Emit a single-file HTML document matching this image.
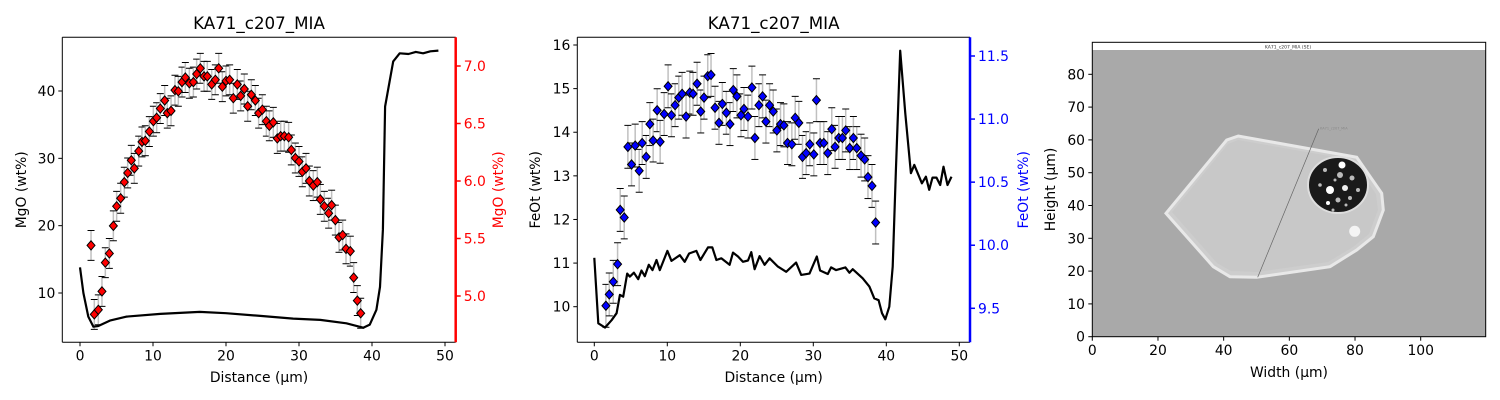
<!DOCTYPE html>
<html><head><meta charset="utf-8">
<style>
html,body{margin:0;padding:0;background:#fff;}
svg{display:block;font-family:"DejaVu Sans","Liberation Sans",sans-serif;}
</style></head>
<body>
<svg id="fig" width="1500" height="400" viewBox="0 0 1500 400" xmlns="http://www.w3.org/2000/svg">
<rect width="1500" height="400" fill="#fff"/>
<g id="p1"></g>
<g id="p2"></g>
<g id="p3">
  <rect x="1092.3" y="42.3" width="393.4" height="294.4" fill="#a9a9a9"/>
  <rect x="1092.3" y="42.3" width="393.4" height="7.7" fill="#fff"/>
  <text x="1288" y="48.5" font-size="4.5" text-anchor="middle" fill="#333">KA71_c207_MIA (SE)</text>
  <polygon points="1166,213.3 1226.7,140 1238.3,136 1356.7,157.3 1381.7,193.3 1383.3,210 1373.3,236.7 1356.7,250 1330,266.7 1256.7,277.3 1230,276.7 1213.3,266.7" fill="#cdcdcd" stroke="#e8e8e8" stroke-width="3"/>
  <polygon points="1172,212 1228,144 1238,140 1352,160 1376,194 1378,210 1369,234 1353,247 1328,262 1257,272 1231,271 1217,263" fill="#c8c8c8"/>
  <ellipse cx="1338" cy="185" rx="30" ry="28" fill="#1a1a1a" stroke="#ddd" stroke-width="2"/>
  <g fill="#bbb">
    <circle cx="1340" cy="175" r="3"/><circle cx="1330" cy="190" r="4" fill="#fff"/><circle cx="1345" cy="188" r="3" fill="#eee"/><circle cx="1325" cy="170" r="2"/><circle cx="1352" cy="178" r="2.5"/><circle cx="1338" cy="200" r="2.5"/><circle cx="1350" cy="198" r="2"/><circle cx="1342" cy="165" r="3.5" fill="#fff"/><circle cx="1328" cy="203" r="2" fill="#fff"/><circle cx="1358" cy="190" r="2"/><circle cx="1320" cy="185" r="1.8"/><circle cx="1335" cy="180" r="1.5"/><circle cx="1346" cy="205" r="1.5"/><circle cx="1333" cy="210" r="1.5"/>
  </g>
  <circle cx="1354.7" cy="231.3" r="5.5" fill="#f4f4f4"/>
  <line x1="1257.7" y1="277.3" x2="1318.7" y2="128.7" stroke="#666" stroke-width="0.7"/>
  <text x="1320" y="129.5" font-size="3.5" fill="#888">KA71_c207_MIA</text>
  <rect x="1092.3" y="42.3" width="393.4" height="294.4" fill="none" stroke="#000" stroke-width="1"/>
</g>
</svg>
<script>
// ---------- Panel 1 data (MgO) ----------
const mgoDist = [1.51,1.96,2.51,3.01,3.47,4.02,4.57,5.02,5.57,6.07,6.53,7.03,7.44,8.04,8.49,8.95,9.50,10.05,10.50,11.00,11.60,11.96,12.47,13.01,13.47,13.97,14.43,14.98,15.53,15.98,16.48,16.99,17.44,18.04,18.54,19.00,19.50,20.00,20.50,21.00,21.55,22.01,22.51,22.97,23.47,24.02,24.47,24.98,25.53,25.94,26.48,27.03,27.49,27.99,28.58,28.95,29.50,30.00,30.46,30.96,31.42,31.96,32.51,32.92,33.47,34.06,34.47,34.98,35.48,35.98,36.44,37.03,37.49,37.99,38.45];
const mgoMelt = [5.44,4.84,4.88,5.04,5.29,5.37,5.61,5.78,5.85,5.99,6.07,6.18,6.11,6.26,6.34,6.35,6.43,6.52,6.55,6.63,6.70,6.59,6.61,6.79,6.78,6.86,6.90,6.85,6.86,6.93,6.98,6.91,6.91,6.84,6.88,6.98,6.82,6.87,6.88,6.72,6.84,6.74,6.80,6.65,6.75,6.70,6.59,6.62,6.52,6.48,6.51,6.37,6.39,6.39,6.38,6.27,6.20,6.17,6.08,6.11,6.00,5.96,5.99,5.84,5.78,5.72,5.79,5.66,5.51,5.53,5.41,5.39,5.16,4.96,4.85];
const mgoErr = 0.13;
const mgoHostDist = [0,0.46,1.14,1.83,2.5,4.1,6.4,11,16.4,20,24.7,29.2,32.9,36.5,38.8,39.7,40.6,41.1,41.5,41.8,42.9,43.8,45,46,47,48,49.1];
const mgoHost = [13.8,10.0,6.5,5.0,5.1,5.9,6.5,6.9,7.2,7.0,6.6,6.2,6.0,5.5,4.85,5.3,7.5,10.9,19.4,37.7,44.4,45.6,45.5,45.8,45.6,45.9,46.0];
const p1XTicks = [0,10,20,30,40,50];
const p1LTicks = [10,20,30,40];
const p1RTicks = [5.0,5.5,6.0,6.5,7.0];

// ---------- Panel 2 data (FeOt) ----------
const feoDist = [1.59,2.05,2.60,3.19,3.55,4.10,4.60,5.10,5.60,6.15,6.56,7.11,7.61,8.06,8.61,9.02,9.57,10.11,10.57,11.07,11.57,12.03,12.57,13.08,13.53,14.08,14.58,15.03,15.54,15.99,16.54,17.08,17.54,18.09,18.59,19.04,19.54,20.09,20.50,21.05,21.59,22.00,22.55,23.05,23.51,24.01,24.51,25.01,25.51,25.97,26.47,27.06,27.52,28.02,28.52,29.02,29.52,30.07,30.43,30.93,31.44,31.98,32.53,32.98,33.49,33.99,34.44,34.99,35.49,35.95,36.54,37.04,37.49,38.04,38.54];
const feoMelt = [9.52,9.61,9.71,9.85,10.28,10.22,10.78,10.64,10.79,10.59,10.81,10.70,10.96,10.83,11.07,10.82,11.04,11.26,11.03,11.11,11.17,11.20,11.02,11.21,11.20,11.28,11.06,11.17,11.34,11.35,11.09,10.97,11.12,11.05,10.96,11.23,11.18,11.03,11.08,11.02,11.25,10.85,11.11,11.18,10.98,11.11,11.06,10.91,10.96,10.95,10.81,10.80,11.01,10.97,10.70,10.73,10.80,10.72,11.15,10.81,10.81,10.73,10.92,10.78,10.85,10.85,10.91,10.77,10.85,10.77,10.71,10.68,10.54,10.47,10.18];
const feoErr = 0.17;
const feoHostDist = [0,0.55,1.46,2.37,3.05,3.51,3.96,4.51,4.87,5.42,6.01,6.47,6.92,7.47,7.97,8.52,8.97,10.02,10.57,11.71,12.39,12.98,13.98,14.54,15.58,16.17,16.72,17.40,18.54,19.0,19.68,20.36,21.05,21.5,21.96,22.64,23.33,24.01,25.15,26.29,27.65,28.34,29.48,30.48,30.93,31.98,32.44,33.12,34.40,34.94,35.4,36.77,37.68,38.36,38.95,39.41,39.86,40.41,40.87,41.32,41.91,42.6,43.37,43.83,44.88,45.42,45.88,46.33,46.88,47.38,47.83,48.38,48.93];
const feoHost = [11.12,9.62,9.52,9.69,9.85,10.27,10.23,10.76,10.69,10.78,10.63,10.83,10.70,10.96,10.84,11.07,10.84,11.28,11.05,11.18,11.03,11.22,11.28,11.07,11.36,11.36,11.07,11.11,10.96,11.24,11.15,11.03,11.06,11.25,10.86,11.16,10.96,11.11,10.92,10.80,11.01,10.73,10.76,11.15,10.83,10.75,10.90,10.84,10.90,10.78,10.86,10.65,10.46,10.19,10.15,9.85,9.71,10.0,10.92,13.13,15.87,14.43,13.06,13.25,12.83,12.98,12.68,12.96,12.96,12.79,13.21,12.79,12.98];
const p2XTicks = [0,10,20,30,40,50];
const p2LTicks = [10,11,12,13,14,15,16];
const p2RTicks = [9.5,10.0,10.5,11.0,11.5];

// ---------- Panel 3 ticks ----------
const p3XTicks = [0,20,40,60,80,100];
const p3YTicks = [0,10,20,30,40,50,60,70,80];

const NS = 'http://www.w3.org/2000/svg';
const FS = 13.9;
function mk(parent, tag, attrs, txt){
  const e = document.createElementNS(NS, tag);
  for (const k in attrs) e.setAttribute(k, attrs[k]);
  if (txt !== undefined) e.textContent = txt;
  parent.appendChild(e);
  return e;
}
function lin(d0,d1,r0,r1){ return v => r0 + (v-d0)*(r1-r0)/(d1-d0); }

function panel(g, cfg){
  const L=cfg.L, R=cfg.R, T=37.3, B=342.3;
  const X = lin(0,50,cfg.x0,cfg.x50);
  const YL = lin(cfg.l[0],cfg.l[1],cfg.l[2],cfg.l[3]);
  const YR = lin(cfg.r[0],cfg.r[1],cfg.r[2],cfg.r[3]);
  const clip = mk(g,'clipPath',{id:cfg.id+'clip'});
  mk(clip,'rect',{x:L,y:T,width:R-L,height:B-T});
  const eg = mk(g,'g',{'clip-path':'url(#'+cfg.id+'clip)'});
  
  
  cfg.md.forEach((d,i)=>{
    const x=X(d), y1=YR(cfg.mv[i]+cfg.err), y2=YR(cfg.mv[i]-cfg.err);
    const bar = mk(eg,'line',{x1:x,x2:x,y1:y1,y2:y2,stroke:'#c0c0c0','stroke-width':1.5});
    
    
    mk(eg,'line',{x1:x-3.5,x2:x+3.5,y1:y1,y2:y1,stroke:'#000','stroke-width':1});
    mk(eg,'line',{x1:x-3.5,x2:x+3.5,y1:y2,y2:y2,stroke:'#000','stroke-width':1});
  });
  cfg.md.forEach((d,i)=>{
    const x=X(d), y=YR(cfg.mv[i]);
    const p = mk(eg,'polygon',{points:`${x},${y-4.6} ${x+4},${y} ${x},${y+4.6} ${x-4},${y}`,fill:cfg.mc,stroke:'#000','stroke-width':1});
    
    
  });
  const pts = cfg.hd.map((d,i)=>X(d).toFixed(1)+','+YL(cfg.hv[i]).toFixed(1)).join(' ');
  const hl = mk(g,'polyline',{points:pts,fill:'none',stroke:'#000','stroke-width':2.2,'stroke-linejoin':'round','clip-path':'url(#'+cfg.id+'clip)'});
  
  
  mk(g,'line',{x1:L,y1:T,x2:R,y2:T,stroke:'#000','stroke-width':1});
  mk(g,'line',{x1:L,y1:B,x2:R,y2:B,stroke:'#000','stroke-width':1});
  mk(g,'line',{x1:L,y1:T,x2:L,y2:B,stroke:'#000','stroke-width':1});
  const ac = cfg.mc==='#ff0000'?'#ff0000':'#0000ff';
  const rs = mk(g,'line',{x1:R,y1:T,x2:R,y2:B,stroke:ac,'stroke-width':2.5});
  
  
  cfg.xt.forEach(t=>{
    const x=X(t);
    mk(g,'line',{x1:x,x2:x,y1:B,y2:B+4,stroke:'#000','stroke-width':1});
    const tl = mk(g,'text',{x:x,y:B+18,'font-size':FS,'text-anchor':'middle',fill:'#000'},String(t));
    
    
  });
  cfg.lt.forEach(t=>{
    const y=YL(t);
    mk(g,'line',{x1:L-4,x2:L,y1:y,y2:y,stroke:'#000','stroke-width':1});
    const tl = mk(g,'text',{x:L-7,y:y+5,'font-size':FS,'text-anchor':'end',fill:'#000'},String(t));
    
    
  });
  cfg.rt.forEach(t=>{
    const y=YR(t);
    mk(g,'line',{x1:R,x2:R+5,y1:y,y2:y,stroke:ac,'stroke-width':1.5});
    const tl = mk(g,'text',{x:R+8,y:y+5,'font-size':FS,'text-anchor':'start',fill:ac},t.toFixed(1));
    
    
  });
  const cx=(L+R)/2;
  const tt = mk(g,'text',{x:cx,y:29,'font-size':16.7,'text-anchor':'middle',fill:'#000'},'KA71_c207_MIA');
  
  
  const xl = mk(g,'text',{x:cx,y:382,'font-size':FS,'text-anchor':'middle',fill:'#000'},'Distance (µm)');
  
  
  const yl = mk(g,'text',{x:cfg.llx,y:(T+B)/2,'font-size':FS,'text-anchor':'middle',fill:'#000',transform:`rotate(-90 ${cfg.llx} ${(T+B)/2})`},cfg.lab);
  
  
  const yr = mk(g,'text',{x:cfg.rlx,y:(T+B)/2,'font-size':FS,'text-anchor':'middle',fill:ac,transform:`rotate(-90 ${cfg.rlx} ${(T+B)/2})`},cfg.lab);
  
  
}

panel(document.getElementById('p1'),{id:'p1',L:62.3,R:455.7,x0:80,x50:445,
  l:[10,40,293,91], r:[5.0,7.0,296,66], md:mgoDist, mv:mgoMelt, err:mgoErr, hd:mgoHostDist, hv:mgoHost,
  mc:'#ff0000', xt:p1XTicks, lt:p1LTicks, rt:p1RTicks, lab:'MgO (wt%)', llx:26, rlx:503});
panel(document.getElementById('p2'),{id:'p2',L:577.3,R:970,x0:594.3,x50:959.3,
  l:[10,16,306.7,45], r:[9.5,11.5,308.3,56], md:feoDist, mv:feoMelt, err:feoErr, hd:feoHostDist, hv:feoHost,
  mc:'#0000ff', xt:p2XTicks, lt:p2LTicks, rt:p2RTicks, lab:'FeOt (wt%)', llx:540, rlx:1028});

(function(){
  const g=document.getElementById('p3');
  const X=lin(0,100,1092.3,1420.7), Y=lin(0,80,336.7,74.3);
  p3XTicks.forEach(t=>{
    mk(g,'line',{x1:X(t),x2:X(t),y1:336.7,y2:340.7,stroke:'#000'});
    const tl=mk(g,'text',{x:X(t),y:355,'font-size':FS,'text-anchor':'middle'},String(t));
    
    
  });
  p3YTicks.forEach(t=>{
    mk(g,'line',{x1:1088.3,x2:1092.3,y1:Y(t),y2:Y(t),stroke:'#000'});
    const tl=mk(g,'text',{x:1085,y:Y(t)+5,'font-size':FS,'text-anchor':'end'},String(t));
    
    
  });
  const xl=mk(g,'text',{x:1289,y:377,'font-size':FS,'text-anchor':'middle'},'Width (µm)');
  
  
  const yl=mk(g,'text',{x:1055,y:189.5,'font-size':FS,'text-anchor':'middle',transform:'rotate(-90 1055 189.5)'},'Height (µm)');
  
  
})();
</script>
</body></html>
